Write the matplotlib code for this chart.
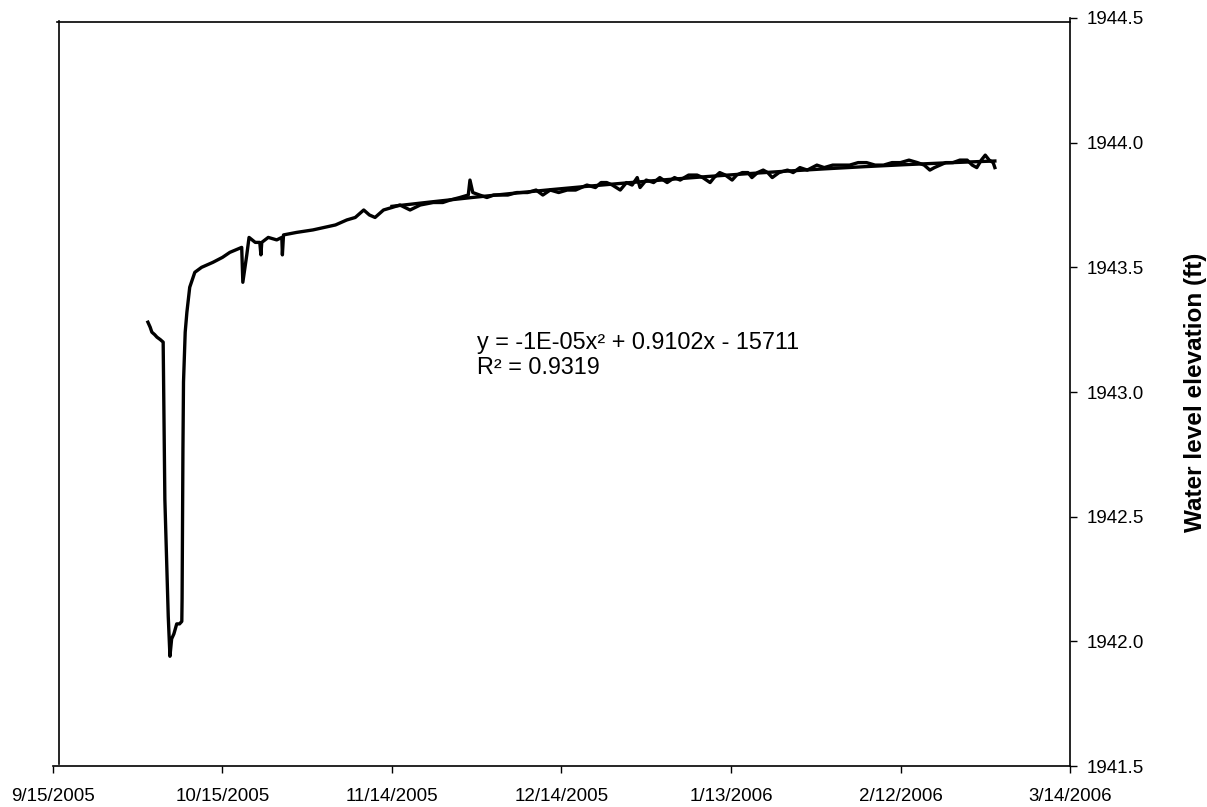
import numpy as np
import pandas as pd
import matplotlib
matplotlib.use("Agg")
from matplotlib import pyplot as plt
import matplotlib.dates as mdates

plt.rcParams['font.family'] = ['Liberation Sans', 'DejaVu Sans']

start = pd.Timestamp('2005-09-15')

# days after 9/15/2005, water level (ft)
days = [16.8, 17.2, 17.5, 18.0, 18.4, 19.0, 19.5, 19.8, 20.4, 20.7, 21.0, 21.4, 21.9, 22.4, 22.8,
        22.85, 23.0, 23.1, 23.4, 23.7, 24.2, 25.1, 26.3, 28.3, 30.0, 31.3, 33.4, 33.6, 34.3, 34.7,
        35.8, 36.6, 36.8, 36.95, 38.1, 39.6, 40.5, 40.6, 40.8, 43.1, 46.0, 48.0, 50.0, 52.0, 53.5,
        55.0, 56.0, 57.0, 58.5, 60.0, 61.4, 63.2, 65.0, 67.3, 69.0, 70.3, 72.0, 73.5, 73.8, 74.3,
        75.5, 76.8, 78.0, 79.1, 80.5, 82.1, 84.0, 85.5, 86.7, 88.0, 89.5, 91.0, 92.5, 94.5, 96.0,
        97.0, 98.0, 99.0, 100.4, 101.5, 102.5, 103.4, 103.9, 105.0, 106.3, 107.4, 108.7, 110.0, 111.0,
        112.5, 114.0, 115.0, 116.3, 117.0, 118.0, 119.0, 120.2, 121.0, 122.0, 123.0, 123.7, 124.7,
        125.7, 126.5, 127.3, 128.5, 130.0, 131.0, 132.2, 133.5, 135.2, 136.5, 138.0, 139.5, 141.0,
        142.5, 144.0, 145.5, 147.0, 148.5, 150.0, 151.5, 153.0, 154.2, 155.2, 156.0, 157.0, 158.0,
        159.3, 160.5, 161.8, 162.7, 163.5, 164.3, 165.0, 165.7, 166.4, 166.7]
level = [1943.28, 1943.26, 1943.24, 1943.23, 1943.22, 1943.21, 1943.20, 1942.57, 1942.10, 1941.94,
         1942.01, 1942.03, 1942.07, 1942.07, 1942.08, 1942.17, 1942.77, 1943.04, 1943.24, 1943.32,
         1943.42, 1943.48, 1943.50, 1943.52, 1943.54, 1943.56, 1943.58, 1943.44, 1943.55, 1943.62,
         1943.60, 1943.60, 1943.55, 1943.60, 1943.62, 1943.61, 1943.62, 1943.55, 1943.63, 1943.64,
         1943.65, 1943.66, 1943.67, 1943.69, 1943.70, 1943.73, 1943.71, 1943.70, 1943.73, 1943.74,
         1943.75, 1943.73, 1943.75, 1943.76, 1943.76, 1943.77, 1943.78, 1943.79, 1943.85, 1943.80,
         1943.79, 1943.78, 1943.79, 1943.79, 1943.79, 1943.80, 1943.80, 1943.81, 1943.79, 1943.81,
         1943.80, 1943.81, 1943.81, 1943.83, 1943.82, 1943.84, 1943.84, 1943.83, 1943.81, 1943.84,
         1943.83, 1943.86, 1943.82, 1943.85, 1943.84, 1943.86, 1943.84, 1943.86, 1943.85, 1943.87,
         1943.87, 1943.86, 1943.84, 1943.86, 1943.88, 1943.87, 1943.85, 1943.87, 1943.88, 1943.88,
         1943.86, 1943.88, 1943.89, 1943.88, 1943.86, 1943.88, 1943.89, 1943.88, 1943.90, 1943.89,
         1943.91, 1943.90, 1943.91, 1943.91, 1943.91, 1943.92, 1943.92, 1943.91, 1943.91, 1943.92,
         1943.92, 1943.93, 1943.92, 1943.91, 1943.89, 1943.90, 1943.91, 1943.92, 1943.92, 1943.93,
         1943.93, 1943.91, 1943.90, 1943.93, 1943.95, 1943.93, 1943.92, 1943.90]

tick_days = [0, 30, 60, 90, 120, 150, 180]
y_ticks = [1941.5, 1942.0, 1942.5, 1943.0, 1943.5, 1944.0, 1944.5]
trend_start = 60
eq_text = "y = -1E-05x² + 0.9102x - 15711\nR² = 0.9319"

t = start + pd.to_timedelta(days, unit='D')
tick_dates = start + pd.to_timedelta(tick_days, unit='D')
tick_labels = [f"{d.month}/{d.day}/{d.year}" for d in tick_dates]

# 2nd order trendline over the later record
d_arr = np.array(days)
lv = np.array(level)
m = d_arr >= trend_start
coef = np.polyfit(d_arr[m], lv[m], 2)
d_fit = np.linspace(d_arr[m][0], d_arr[m][-1], 200)
t_fit = start + pd.to_timedelta(d_fit, unit='D')

fig = plt.figure(figsize=(12.07, 8.07), dpi=100)
ax = fig.add_axes([0.0439, 0.0508, 0.8426, 0.9269])

ax.plot(t, level, color='black', lw=2.4, solid_joinstyle='round')
ax.plot(t_fit, np.polyval(coef, d_fit), color='black', lw=2.4)

ax.set_xlim(tick_dates[0], tick_dates[-1])
ax.set_ylim(1941.5, 1944.5)
ax.set_xticks(tick_dates)
ax.set_xticklabels(tick_labels)
ax.set_yticks(y_ticks)
ax.set_yticklabels([f"{v:.1f}" for v in y_ticks])

ax.yaxis.tick_right()
ax.yaxis.set_label_position('right')
ax.set_ylabel('Water level elevation (ft)', fontsize=17.5, fontweight='bold', labelpad=29)
ax.tick_params(axis='both', direction='out', length=5, width=1, labelsize=13.5)
ax.tick_params(axis='x', pad=11)
ax.tick_params(axis='y', pad=7)

for s in ax.spines.values():
    s.set_linewidth(1.2)
    s.set_color('black')
# plot-area border sits a little inside the axis lines
x0 = mdates.date2num(tick_dates[0])
x1 = mdates.date2num(tick_dates[-1])
ax.spines['left'].set_position(('outward', -4))
ax.spines['left'].set_bounds(1941.51, 1944.488)
ax.spines['top'].set_position(('outward', -3))
ax.spines['top'].set_bounds(x0 + 0.7, x1)

ax.text(75.0 / 180, 0.549, eq_text, transform=ax.transAxes, fontsize=16.8,
        va='center', ha='left', linespacing=1.12)

fig.savefig('out.png', dpi=100)
